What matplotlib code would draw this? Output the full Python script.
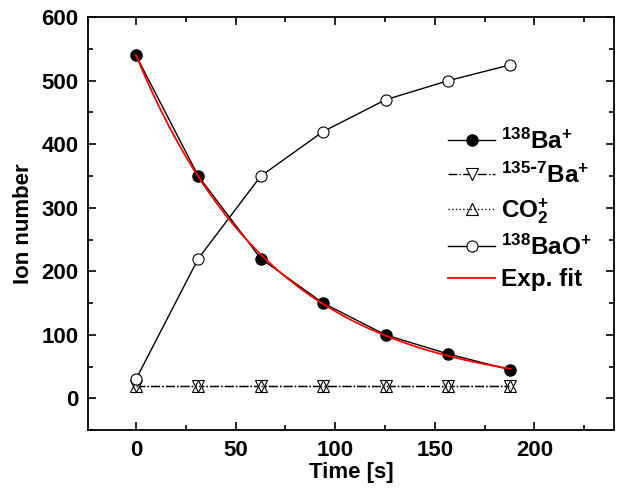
import numpy as np
import matplotlib
matplotlib.use('Agg')
import matplotlib.pyplot as plt
from matplotlib.ticker import MultipleLocator

plt.rcParams['font.family'] = 'Liberation Sans'
plt.rcParams['font.weight'] = 'bold'
plt.rcParams['mathtext.default'] = 'regular'

# Data
time = [0, 31.3, 62.7, 94, 125.3, 156.7, 188]
ba138 = [540, 350, 220, 150, 100, 70, 45]
ba135_7 = [20, 20, 20, 20, 20, 20, 20]
co2 = [20, 20, 20, 20, 20, 20, 20]
bao138 = [30, 220, 350, 420, 470, 500, 525]

# Exponential fit (with offset) of the 138Ba+ decay
t = np.array(time)
y = np.array(ba138, dtype=float)
best = None
for c in np.linspace(-50, 40, 181):
    p = np.polyfit(t, np.log(y - c), 1)
    res = np.sum((np.exp(np.polyval(p, t)) + c - y) ** 2)
    if best is None or res < best[0]:
        best = (res, p, c)
_, p_fit, c_fit = best
t_fit = np.linspace(0, 188, 200)
y_fit = np.exp(np.polyval(p_fit, t_fit)) + c_fit

fig, ax = plt.subplots(figsize=(6.43, 4.90), dpi=100)
fig.subplots_adjust(left=0.137, right=0.955, top=0.965, bottom=0.122)

ax.plot(time, ba138, '-', color='black', lw=1, marker='o', ms=8,
        mfc='black', mec='black', label=r'$^{138}$Ba$^{+}$')
ax.plot(time, ba135_7, '-.', color='black', lw=1, marker='v', ms=8,
        mfc='white', mec='black', mew=0.8, label=r'$^{135\text{-}7}$Ba$^{+}$')
ax.plot(time, co2, ':', color='black', lw=1, marker='^', ms=8,
        mfc='none', mec='black', mew=0.8, label=r'CO$_{2}^{+}$')
ax.plot(time, bao138, '-', color='black', lw=1, marker='o', ms=8,
        mfc='white', mec='black', mew=0.8, label=r'$^{138}$BaO$^{+}$')
ax.plot(t_fit, y_fit, '-', color='red', lw=1.3, label='Exp. fit')

ax.set_xlim(-24, 240)
ax.set_ylim(-50, 600)
ax.xaxis.set_major_locator(MultipleLocator(50))
ax.xaxis.set_minor_locator(MultipleLocator(25))
ax.yaxis.set_major_locator(MultipleLocator(100))
ax.yaxis.set_minor_locator(MultipleLocator(50))
ax.tick_params(which='both', direction='in', top=True, right=True, width=1.2)
ax.tick_params(which='major', length=6, labelsize=16, pad=7)
ax.tick_params(which='minor', length=3.5)
for s in ax.spines.values():
    s.set_linewidth(1.3)

ax.set_xlabel('Time [s]', fontsize=16, fontweight='bold', labelpad=1)
ax.set_ylabel('Ion number', fontsize=16, fontweight='bold', labelpad=5)

leg = ax.legend(loc='upper left', bbox_to_anchor=(0.684, 0.73), frameon=False,
                fontsize=17.5, handlelength=1.95, labelspacing=0.35,
                handletextpad=0.25, borderaxespad=0, borderpad=0)
for txt in leg.get_texts():
    txt.set_fontweight('bold')

fig.savefig('out.png', dpi=100)
